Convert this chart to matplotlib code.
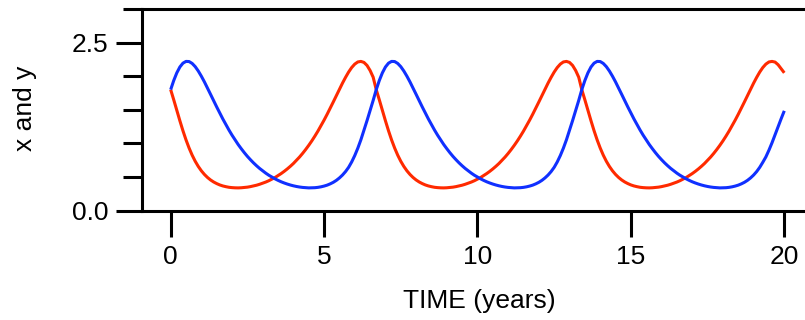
import numpy as np
import matplotlib
matplotlib.use("Agg")
import matplotlib.pyplot as plt
from matplotlib.ticker import FixedLocator

plt.rcParams['font.family'] = ['Liberation Sans', 'DejaVu Sans']

# time axis (years), sampled every 0.1 year
time_years = np.linspace(0, 20, 201)

# x (red) values
x_values = [
    1.800, 1.649, 1.492, 1.337, 1.189, 1.053, 0.932, 0.826, 0.735, 0.658,
    0.593, 0.539, 0.494, 0.457, 0.427, 0.403, 0.383, 0.368, 0.357, 0.348,
    0.343, 0.340, 0.339, 0.341, 0.345, 0.350, 0.358, 0.368, 0.379, 0.393,
    0.409, 0.426, 0.446, 0.469, 0.493, 0.522, 0.552, 0.585, 0.621, 0.660,
    0.702, 0.749, 0.798, 0.852, 0.910, 0.972, 1.038, 1.109, 1.184, 1.264,
    1.347, 1.434, 1.525, 1.617, 1.711, 1.805, 1.897, 1.983, 2.062, 2.129,
    2.180, 2.212, 2.220, 2.205, 2.160, 2.085, 1.985,
    1.800, 1.649, 1.492, 1.337, 1.189, 1.053, 0.932, 0.826, 0.735, 0.658,
    0.593, 0.539, 0.494, 0.457, 0.427, 0.403, 0.383, 0.368, 0.357, 0.348,
    0.343, 0.340, 0.339, 0.341, 0.345, 0.350, 0.358, 0.368, 0.379, 0.393,
    0.409, 0.426, 0.446, 0.469, 0.493, 0.522, 0.552, 0.585, 0.621, 0.660,
    0.702, 0.749, 0.798, 0.852, 0.910, 0.972, 1.038, 1.109, 1.184, 1.264,
    1.347, 1.434, 1.525, 1.617, 1.711, 1.805, 1.897, 1.983, 2.062, 2.129,
    2.180, 2.212, 2.220, 2.205, 2.160, 2.085, 1.985,
    1.800, 1.649, 1.492, 1.337, 1.189, 1.053, 0.932, 0.826, 0.735, 0.658,
    0.593, 0.539, 0.494, 0.457, 0.427, 0.403, 0.383, 0.368, 0.357, 0.348,
    0.343, 0.340, 0.339, 0.341, 0.345, 0.350, 0.358, 0.368, 0.379, 0.393,
    0.409, 0.426, 0.446, 0.469, 0.493, 0.522, 0.552, 0.585, 0.621, 0.660,
    0.702, 0.749, 0.798, 0.852, 0.910, 0.972, 1.038, 1.109, 1.184, 1.264,
    1.347, 1.434, 1.525, 1.617, 1.711, 1.805, 1.897, 1.983, 2.062, 2.129,
    2.180, 2.212, 2.220, 2.210, 2.170, 2.110, 2.050,
]

# y (blue) values
y_values = [
    1.800, 1.936, 2.050, 2.137, 2.194, 2.220, 2.218, 2.190, 2.142, 2.077,
    2.000, 1.915, 1.824, 1.730, 1.636, 1.543, 1.452, 1.364, 1.280, 1.199,
    1.123, 1.052, 0.984, 0.922, 0.863, 0.808, 0.758, 0.711, 0.668, 0.628,
    0.592, 0.558, 0.527, 0.500, 0.474, 0.451, 0.430, 0.412, 0.396, 0.382,
    0.370, 0.360, 0.352, 0.346, 0.342, 0.339, 0.340, 0.342, 0.347, 0.355,
    0.366, 0.380, 0.399, 0.422, 0.451, 0.487, 0.530, 0.582, 0.645, 0.725,
    0.820, 0.930, 1.055, 1.195, 1.340, 1.490, 1.640,
    1.800, 1.936, 2.050, 2.137, 2.194, 2.220, 2.218, 2.190, 2.142, 2.077,
    2.000, 1.915, 1.824, 1.730, 1.636, 1.543, 1.452, 1.364, 1.280, 1.199,
    1.123, 1.052, 0.984, 0.922, 0.863, 0.808, 0.758, 0.711, 0.668, 0.628,
    0.592, 0.558, 0.527, 0.500, 0.474, 0.451, 0.430, 0.412, 0.396, 0.382,
    0.370, 0.360, 0.352, 0.346, 0.342, 0.339, 0.340, 0.342, 0.347, 0.355,
    0.366, 0.380, 0.399, 0.422, 0.451, 0.487, 0.530, 0.582, 0.645, 0.725,
    0.820, 0.930, 1.055, 1.195, 1.340, 1.490, 1.640,
    1.800, 1.936, 2.050, 2.137, 2.194, 2.220, 2.218, 2.190, 2.142, 2.077,
    2.000, 1.915, 1.824, 1.730, 1.636, 1.543, 1.452, 1.364, 1.280, 1.199,
    1.123, 1.052, 0.984, 0.922, 0.863, 0.808, 0.758, 0.711, 0.668, 0.628,
    0.592, 0.558, 0.527, 0.500, 0.474, 0.451, 0.430, 0.412, 0.396, 0.382,
    0.370, 0.360, 0.352, 0.346, 0.342, 0.339, 0.340, 0.342, 0.347, 0.355,
    0.366, 0.380, 0.399, 0.422, 0.451, 0.487, 0.530, 0.582, 0.645, 0.720,
    0.800, 0.900, 1.010, 1.130, 1.250, 1.370, 1.485,
]

x_ticks = [0, 5, 10, 15, 20]
x_tick_labels = ["0", "5", "10", "15", "20"]
y_ticks = [0.0, 2.5]
y_tick_labels = ["0.0", "2.5"]
y_minor_ticks = [0.5, 1.0, 1.5, 2.0, 3.0]

fig = plt.figure(figsize=(8.05, 3.2), dpi=100)
ax = fig.add_axes([0.176, 0.3416, 0.824, 0.6304])

ax.plot(time_years, x_values, color="#ff2a00", lw=2.2, solid_capstyle="butt")
ax.plot(time_years, y_values, color="#1030ff", lw=2.2, solid_capstyle="butt")

ax.set_xlim(-0.945, 20.675)
ax.set_ylim(0, 3)

ax.spines["right"].set_visible(False)
for s in ("left", "top", "bottom"):
    ax.spines[s].set_linewidth(2.2)
    ax.spines[s].set_color("black")

ax.set_xticks(x_ticks)
ax.set_xticklabels(x_tick_labels)
ax.set_yticks(y_ticks)
ax.set_yticklabels(y_tick_labels)
ax.yaxis.set_minor_locator(FixedLocator(y_minor_ticks))

ax.tick_params(axis="both", which="major", direction="out", length=19,
               width=2.2, labelsize=19, color="black")
ax.tick_params(axis="y", which="minor", direction="out", length=13.5, width=2.2)
ax.tick_params(axis="x", which="major", pad=6)
ax.tick_params(axis="y", which="major", pad=5)
ax.tick_params(top=False, right=False)

fig.text(25 / 805, 1 - 108 / 320, "x and y", rotation=90, ha="center",
         va="center", fontsize=19)
fig.text(479 / 805, 1 - 301 / 320, "TIME (years)", ha="center",
         va="center", fontsize=19)

fig.savefig("out.png", dpi=100)
